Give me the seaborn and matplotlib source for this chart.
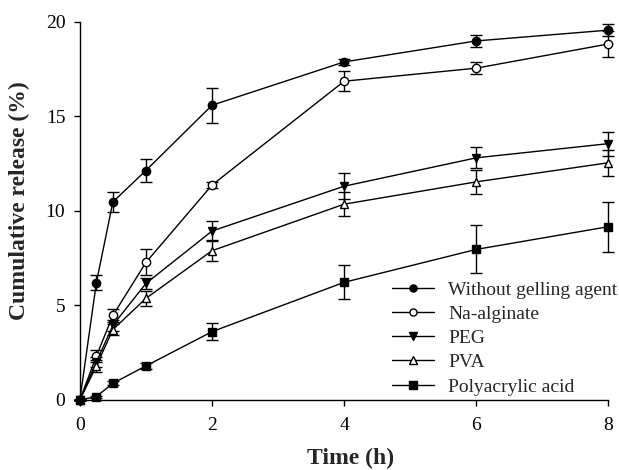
import matplotlib
matplotlib.use("Agg")
import matplotlib.pyplot as plt
import seaborn as sns
import pandas as pd

time_h = [0, 0.25, 0.5, 1, 2, 4, 6, 8]
series_names = ["Without gelling agent", "Na-alginate", "PEG", "PVA", "Polyacrylic acid"]
without_gel = [0, 6.2, 10.47, 12.13, 15.58, 17.87, 18.98, 19.55]
without_gel_err = [0, 0.39, 0.53, 0.63, 0.92, 0.15, 0.3, 0.3]
na_alginate = [0, 2.32, 4.47, 7.27, 11.36, 16.85, 17.54, 18.82]
na_alginate_err = [0, 0.3, 0.35, 0.69, 0.18, 0.53, 0.33, 0.69]
peg = [0, 2.0, 3.95, 6.16, 8.93, 11.3, 12.8, 13.55]
peg_err = [0, 0.25, 0.3, 0.3, 0.55, 0.7, 0.56, 0.63]
pva = [0, 1.8, 3.72, 5.37, 7.89, 10.35, 11.53, 12.54]
pva_err = [0, 0.3, 0.3, 0.4, 0.55, 0.63, 0.65, 0.7]
polyacrylic = [0, 0.18, 0.88, 1.8, 3.61, 6.22, 7.96, 9.16]
polyacrylic_err = [0, 0.05, 0.1, 0.15, 0.44, 0.9, 1.27, 1.32]

values = [without_gel, na_alginate, peg, pva, polyacrylic]
errors = [without_gel_err, na_alginate_err, peg_err, pva_err, polyacrylic_err]
markers = ["o", "o", "v", "^", "s"]
faces = ["black", "white", "black", "white", "black"]

rows = []
for name, v, e in zip(series_names, values, errors):
    for t, y, err in zip(time_h, v, e):
        rows.append({"Time": t, "Release": y, "Err": err, "Series": name})
df = pd.DataFrame(rows)

sns.set_style("ticks")
plt.rcParams["font.family"] = ["Liberation Serif", "DejaVu Serif"]

fig = plt.figure(figsize=(6.19, 4.70), dpi=100)
ax = fig.add_axes([0.129, 0.149, 0.854, 0.805])

for name, m, fc in zip(series_names, markers, faces):
    sub = df[df["Series"] == name]
    ax.errorbar(sub["Time"], sub["Release"], yerr=sub["Err"], fmt="none",
                ecolor="black", elinewidth=1.0, capsize=4.3, capthick=1.0,
                zorder=2, clip_on=False)
    sns.lineplot(data=sub, x="Time", y="Release", ax=ax, color="black",
                 linewidth=1.0, marker=m, markersize=6, markerfacecolor=fc,
                 markeredgecolor="black", markeredgewidth=1.0, label=name,
                 zorder=3, clip_on=False, errorbar=None)

ax.set_xlim(0, 8)
ax.set_ylim(0, 20)
ax.set_xticks([0, 2, 4, 6, 8])
ax.set_yticks([0, 5, 10, 15, 20])
ax.tick_params(axis="both", labelsize=14, direction="out", length=4, width=1, colors="black")
ax.tick_params(axis="y", pad=6.5)
ax.tick_params(axis="x", pad=8)
for s in ["top", "right"]:
    ax.spines[s].set_visible(False)
for s in ["left", "bottom"]:
    ax.spines[s].set_color("black")
    ax.spines[s].set_linewidth(1.0)

ax.set_xlabel("Time (h)", fontsize=17, fontweight="bold")
ax.set_ylabel("Cumulative release (%)", fontsize=17, fontweight="bold")
ax.xaxis.set_label_coords(0.512, -0.127)
ax.yaxis.set_label_coords(-0.0946, 0.526)

leg = ax.legend(loc="upper left", bbox_to_anchor=(391.7 / 619, 1 - 281 / 470),
                bbox_transform=fig.transFigure, frameon=False,
                fontsize=14, handlelength=2.15, handletextpad=0.75,
                labelspacing=0.34, borderaxespad=0, borderpad=0, markerscale=0.85)

fig.savefig("out.png", dpi=100)
